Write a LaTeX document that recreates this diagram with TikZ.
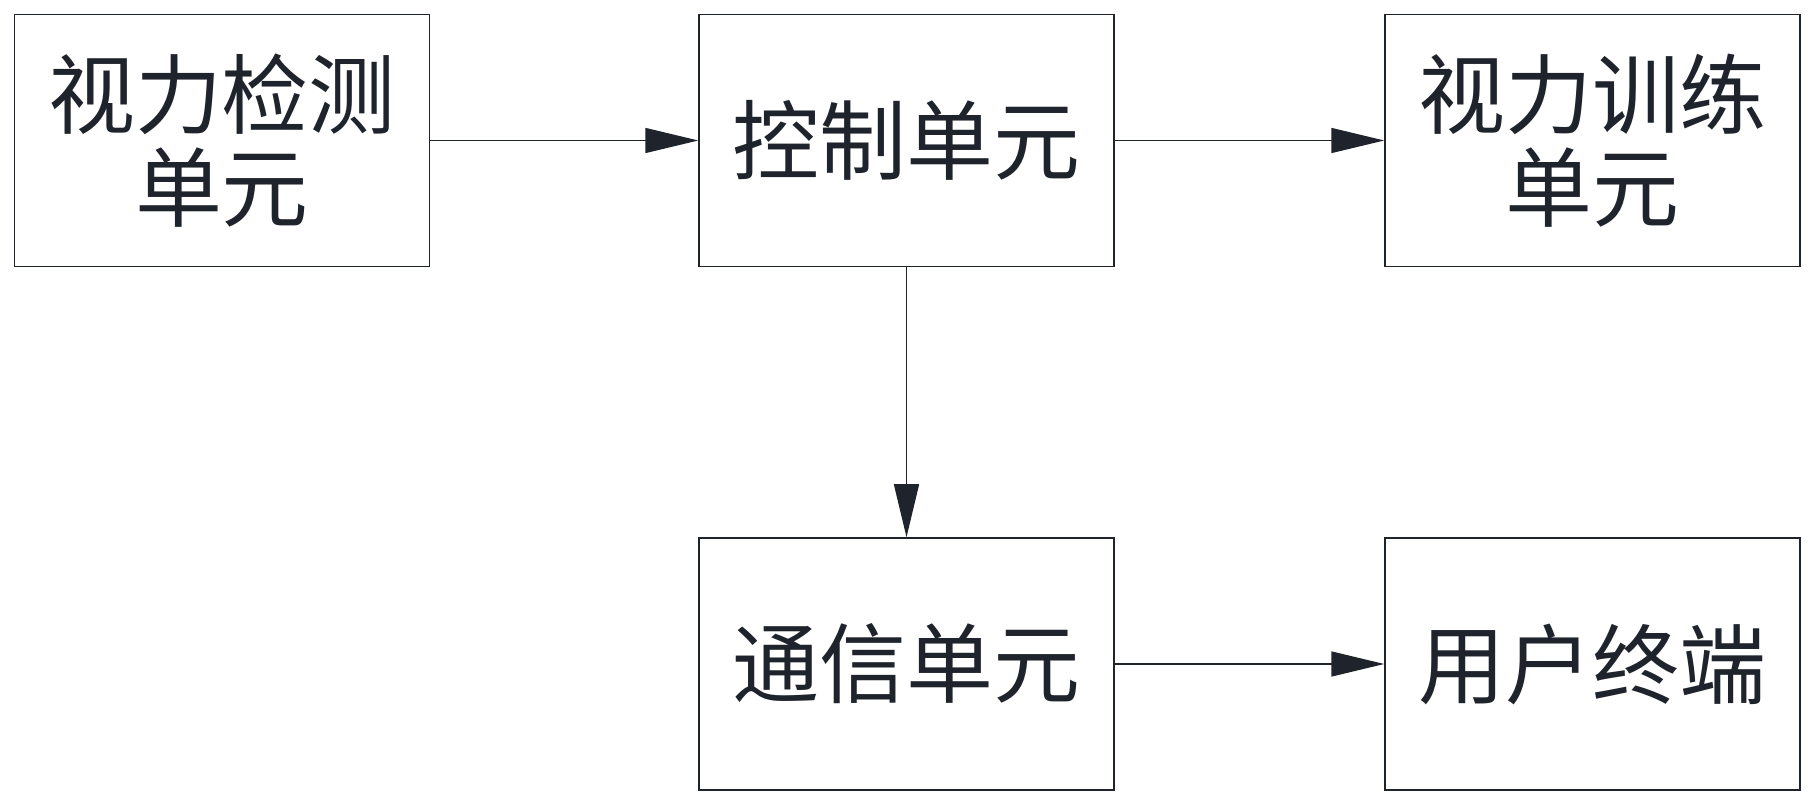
\documentclass[tikz,border=0pt]{standalone}
\usepackage{fontspec}
\newfontfamily\cjk{Noto Sans CJK SC}
\usepackage{tikz}
\usetikzlibrary{arrows.meta}
\definecolor{inkdark}{HTML}{1F242C}

\tikzset{
    unitbox/.style={draw=inkdark, line width=0.9pt, minimum width=8.3cm, minimum height=5.04cm,
        inner sep=0pt, align=center, text=inkdark, font=\cjk\fontsize{49.5}{53}\selectfont},
    flow/.style={draw=inkdark, line width=0.9pt, -{Triangle[length=1.06cm,width=0.5cm]}}
}

\begin{document}
\begin{tikzpicture}[x=0.02cm,y=-0.02cm]
                \useasboundingbox (0,0) rectangle (1813,803);
                \node[unitbox] (detect) at (222,140.5) {视力检测\\单元};
                \node[unitbox] (control) at (906.5,140.5) {控制单元};
                \node[unitbox] (train) at (1592.5,140.5) {视力训练\\单元};
                \node[unitbox] (comm) at (906.5,664) {通信单元};
                \node[unitbox] (user) at (1592.5,664) {用户终端};
                \draw[flow] (detect) -- (control);
                \draw[flow] (control) -- (train);
                \draw[flow] (control) -- (comm);
                \draw[flow] (comm) -- (user);
            \end{tikzpicture}
\end{document}
